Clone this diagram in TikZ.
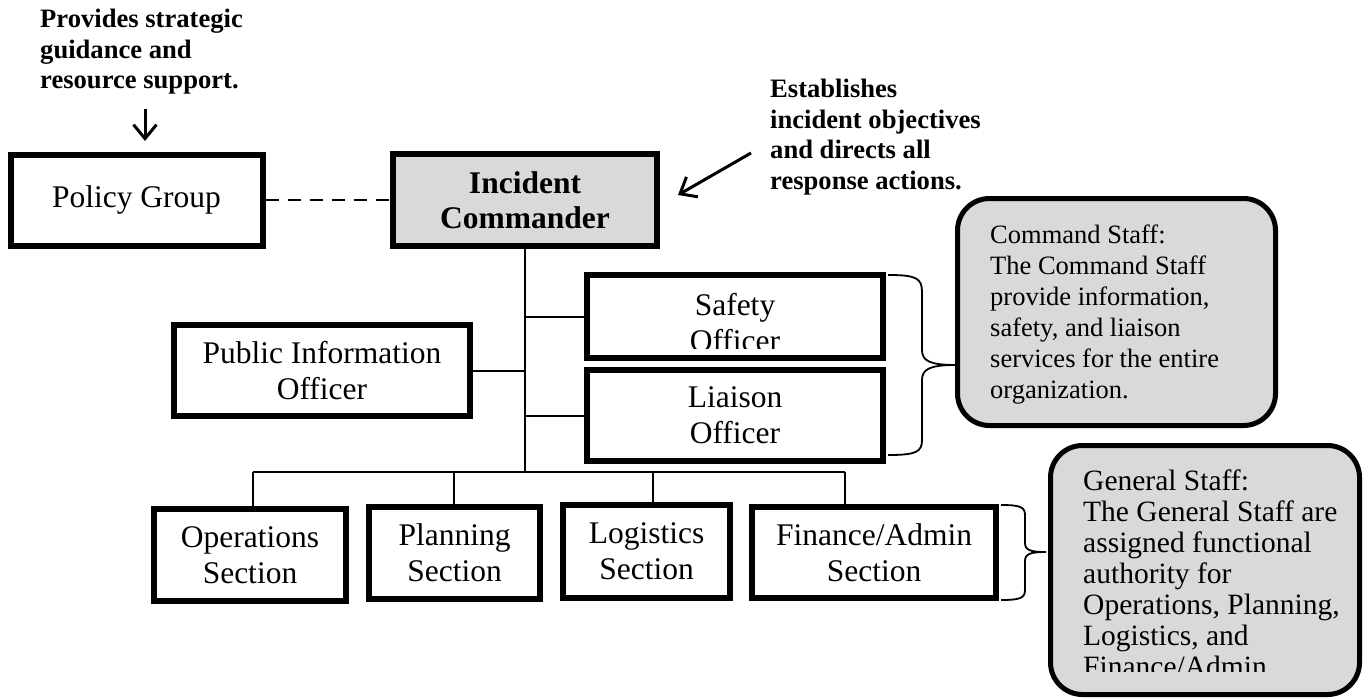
\documentclass[tikz,border=0pt]{standalone}
\usepackage{fontspec}
\setmainfont{Liberation Serif}
\usetikzlibrary{arrows.meta,calc}
\definecolor{boxgray}{HTML}{D9D9D9}
\begin{document}
\begin{tikzpicture}[x=1pt,y=-1pt,
  box/.style={draw, line width=6pt, align=center, inner sep=0pt, font=\fontsize{31.5}{36}\selectfont},
  conn/.style={line width=2pt},
  note/.style={align=left, inner sep=0pt, anchor=north west, font=\bfseries\fontsize{26.6}{30.5}\selectfont},
  callout/.style={draw, line width=5pt, fill=boxgray, rounded corners=32pt},
  calltext/.style={align=left, inner sep=0pt, anchor=north west},
  ptr/.style={line width=3pt, -{Straight Barb[length=14pt,width=23pt]}},
  brc/.style={line width=1.8pt}
]
\useasboundingbox (0,0) rectangle (1364,698);

% annotations
\node[note] (n1) at (40,9) {Provides strategic\\guidance and\\resource support.};
\node[note] (n2) at (770,79) {Establishes\\incident objectives\\and directs all\\response actions.};

% main boxes
\node[box, minimum width=252pt, minimum height=91pt] (pg) at (136.5,200) {Policy Group};
\node[box, fill=boxgray, minimum width=264pt, minimum height=92pt, font=\bfseries\fontsize{31.5}{35}\selectfont] (ic) at (525,200) {Incident\\Commander};

\node[box, minimum width=296pt, minimum height=83pt] (so) at (735,316.5) {};
\begin{scope}
  \clip (588,276) rectangle (882,348);
  \node[align=center, inner sep=0pt, anchor=north, font=\fontsize{31.5}{36}\selectfont] (sotext) at (735,293) {Safety\\Officer};
\end{scope}
\node[box, minimum width=296pt, minimum height=91pt] (lo) at (735,415.5) {Liaison\\Officer};
\node[box, minimum width=296pt, minimum height=91pt] (pio) at (322,370.5) {Public Information\\Officer};

\node[box, minimum width=192pt, minimum height=92pt] (ops) at (250,555) {Operations\\Section};
\node[box, minimum width=171pt, minimum height=92pt] (plan) at (454.5,553) {Planning\\Section};
\node[box, minimum width=167pt, minimum height=93pt] (log) at (646.5,551.5) {Logistics\\Section};
\node[box, minimum width=244pt, minimum height=91pt] (fin) at (874,552.5) {Finance/Admin\\Section};

% callouts
\node[callout, minimum width=318pt, minimum height=227pt] (cs) at (1116.5,312) {};
\node[calltext, font=\fontsize{26.5}{31}\selectfont] (cstext) at (990,225) {Command Staff:\\The Command Staff\\provide information,\\safety, and liaison\\services for the entire\\organization.};

\node[callout, minimum width=309pt, minimum height=249pt] (gs) at (1205,570) {};
\begin{scope}
  \clip (1055,450) rectangle (1355,671);
  \node[calltext, font=\fontsize{29.5}{31}\selectfont] (gstext) at (1083,470) {General Staff:\\The General Staff are\\assigned functional\\authority for\\Operations, Planning,\\Logistics, and\\Finance/Admin};
\end{scope}

% arrows
\coordinate (a1s) at (145,109);
\coordinate (a1e) at (145,141);
\draw[ptr] (a1s) -- (a1e);
\coordinate (a2s) at (751,153);
\coordinate (a2e) at (678,195);
\draw[ptr] (a2s) -- (a2e);

% connectors
\draw[conn, dash pattern=on 13pt off 9pt] (pg.east) -- (ic.west);
\coordinate (bus) at (525,472);
\draw[conn] (ic.south) -- (bus);
\draw[conn] (so.west) -- (so.west -| bus);
\draw[conn] (lo.west) -- (lo.west -| bus);
\draw[conn] (pio.east) -- (pio.east -| bus);
\coordinate (b1) at (253,472);
\coordinate (b2) at (454,472);
\coordinate (b3) at (653,472);
\coordinate (b4) at (845,472);
\draw[conn] (b1) -- (b4);
\draw[conn] (b1) -- (b1 |- ops.north);
\draw[conn] (b2) -- (b2 |- plan.north);
\draw[conn] (b3) -- (b3 |- log.north);
\draw[conn] (b4) -- (b4 |- fin.north);

% braces
\draw[brc] (888,275) .. controls (916,275) and (922,278) .. (922,292) -- (922,350) .. controls (922,361) and (930,365) .. (956,365) .. controls (930,365) and (922,369) .. (922,380) -- (922,440) .. controls (922,452) and (916,455) .. (888,455);
\draw[brc] (1001,505) .. controls (1020,505) and (1025,507) .. (1025,515) -- (1025,543) .. controls (1025,550) and (1030,552) .. (1046,552) .. controls (1030,552) and (1025,554) .. (1025,561) -- (1025,590) .. controls (1025,598) and (1020,600) .. (1001,600);
\end{tikzpicture}
\end{document}
